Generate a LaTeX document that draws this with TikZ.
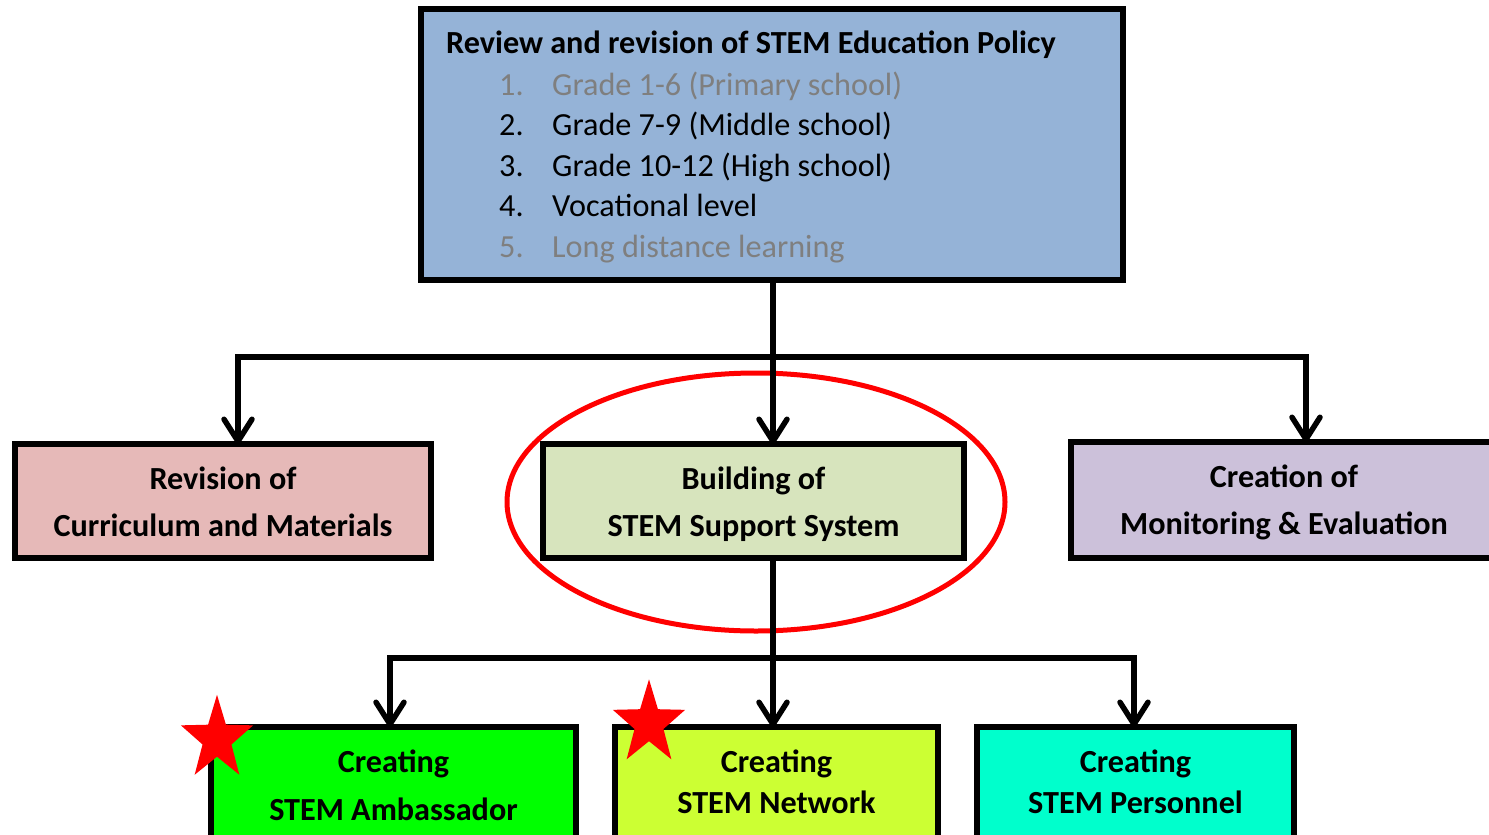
\documentclass[tikz,border=0pt]{standalone}
\usepackage{fontspec}
\setmainfont{Carlito}
\usetikzlibrary{arrows.meta}
\definecolor{topblue}{HTML}{95B3D7}
\definecolor{listgray}{HTML}{7F7F7F}
\definecolor{pinkbox}{HTML}{E6B9B8}
\definecolor{sagebox}{HTML}{D7E4BD}
\definecolor{lilacbox}{HTML}{CCC1DA}
\definecolor{greenbox}{HTML}{00FF00}
\definecolor{limebox}{HTML}{CCFF33}
\definecolor{cyanbox}{HTML}{00FFCC}
\tikzset{
  box/.style={draw=black, line width=5.5pt, rectangle, inner sep=0pt, outer sep=0pt},
  lbl/.style={font=\fontsize{32.2}{38}\selectfont\bfseries, anchor=base, inner sep=0pt},
  lst/.style={font=\fontsize{32.2}{38}\selectfont, anchor=base west, inner sep=0pt},
  conn/.style={line width=5.5pt},
  arr/.style={line width=5.5pt, -{Straight Barb[length=22pt,width=28pt,round]}},
  redstar/.style={fill=red, draw=none}
}
\begin{document}
\begin{tikzpicture}[x=1pt,y=-1pt]
\useasboundingbox (0,0) rectangle (1489,835);
% top box
\node[box, fill=topblue, minimum width=702pt, minimum height=271pt] (top) at (772,144.5) {};
\node[lst, font=\fontsize{32.2}{38}\selectfont\bfseries] (title) at (446,53) {Review and revision of STEM Education Policy};
\node[lst, text=listgray] (n1) at (499,95) {1.};
\node[lst, text=listgray] (t1) at (552,95) {Grade 1-6 (Primary school)};
\node[lst] (n2) at (499,135.5) {2.};
\node[lst] (t2) at (552,135.5) {Grade 7-9 (Middle school)};
\node[lst] (n3) at (499,176) {3.};
\node[lst] (t3) at (552,176) {Grade 10-12 (High school)};
\node[lst] (n4) at (499,216.5) {4.};
\node[lst] (t4) at (552,216.5) {Vocational level};
\node[lst, text=listgray] (n5) at (499,257) {5.};
\node[lst, text=listgray] (t5) at (552,257) {Long distance learning};
% middle row
\node[box, fill=pinkbox, minimum width=416pt, minimum height=114pt] (m1) at (223,501) {};
\node[lbl] (m1a) at (223,489) {Revision of};
\node[lbl] (m1b) at (223,536) {Curriculum and Materials};
\node[box, fill=sagebox, minimum width=421pt, minimum height=114pt] (m2) at (753.5,501) {};
\node[lbl] (m2a) at (753.5,489) {Building of};
\node[lbl] (m2b) at (753.5,536) {STEM Support System};
\node[box, fill=lilacbox, minimum width=470pt, minimum height=116pt] (m3) at (1306,500) {};
\node[lbl] (m3a) at (1284,487) {Creation of};
\node[lbl] (m3b) at (1284,534) {Monitoring \& Evaluation};
% red ellipse
\draw[red, line width=5pt] (756,502) ellipse [x radius=249pt, y radius=129pt];
% bottom row
\node[box, fill=greenbox, minimum width=365pt, minimum height=140pt] (b1) at (393.5,797) {};
\node[lbl] (b1a) at (393.5,772) {Creating};
\node[lbl] (b1b) at (393.5,820) {STEM Ambassador};
\node[box, fill=limebox, minimum width=323pt, minimum height=140pt] (b2) at (776.5,797) {};
\node[lbl] (b2a) at (776.5,772) {Creating};
\node[lbl] (b2b) at (776.5,813) {STEM Network};
\node[box, fill=cyanbox, minimum width=317pt, minimum height=140pt] (b3) at (1135.5,797) {};
\node[lbl] (b3a) at (1135.5,772) {Creating};
\node[lbl] (b3b) at (1135.5,813) {STEM Personnel};
% connectors
\coordinate (bus1) at (773,357);
\coordinate (bus2) at (773,658);
\draw[conn] (top.south -| bus1) -- (bus1);
\draw[arr] (bus1) -| ([xshift=15pt]m1.north);
\draw[arr] (bus1) -- (bus1 |- m2.north);
\draw[arr] (bus1) -| (1306,442);
\draw[conn] (bus2 |- m2.south) -- (bus2);
\draw[arr] (bus2) -| ([xshift=-3.5pt]b1.north);
\draw[arr] (bus2) -- (bus2 |- b2.north);
\draw[arr] (bus2) -| ([xshift=-1.5pt]b3.north);
% stars
\fill[redstar, shift={(217,739)}, yscale=1.163] (-90:38) -- (-126:15.2) -- (-162:38) -- (-198:15.2) -- (-234:38) -- (-270:15.2) -- (-306:38) -- (-342:15.2) -- (-18:38) -- (-54:15.2) -- cycle;
\fill[redstar, shift={(649,723.5)}, yscale=1.163] (-90:38) -- (-126:15.2) -- (-162:38) -- (-198:15.2) -- (-234:38) -- (-270:15.2) -- (-306:38) -- (-342:15.2) -- (-18:38) -- (-54:15.2) -- cycle;
\end{tikzpicture}
\end{document}
